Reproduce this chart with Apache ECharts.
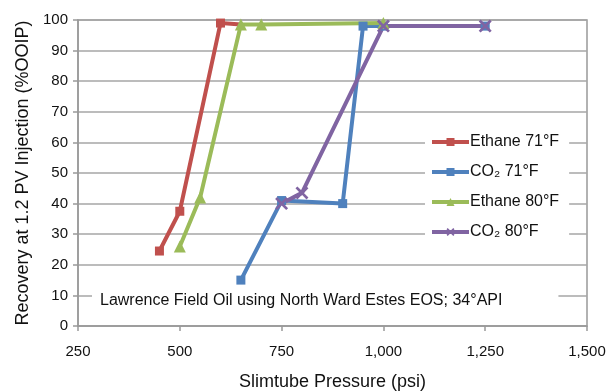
<!DOCTYPE html>
<html>
<head>
<meta charset="utf-8">
<script src="https://cdn.jsdelivr.net/npm/echarts@6/dist/echarts.min.js"></script>
<style>
  html, body { margin: 0; padding: 0; background: #fff; }
  #chart { width: 613px; height: 391px; }
</style>
</head>
<body>
<div id="chart"></div>
<script>
// pressure (psi) / recovery (%OOIP)
var ethane71P = [450, 500, 600, 650];
var ethane71R = [24.5, 37.5, 99, 98.5];
var co2_71P = [650, 750, 900, 950, 1000, 1250];
var co2_71R = [15, 41, 40, 98, 98, 98];
var ethane80P = [500, 550, 650, 700, 1000];
var ethane80R = [26, 42, 98.5, 98.5, 99];
var co2_80P = [750, 800, 1000, 1250];
var co2_80R = [40, 43.5, 98, 98];

var seriesNames = ['Ethane 71°F', 'CO\u2082 71°F', 'Ethane 80°F', 'CO\u2082 80°F'];
var xTicks = [250, 500, 750, 1000, 1250, 1500];
var yTicks = [0, 10, 20, 30, 40, 50, 60, 70, 80, 90, 100];

var colors = ['#C0504D', '#4F81BD', '#9BBB59', '#8064A2'];
var xMark = 'path://M0,1.5L1.5,0L5,3.5L8.5,0L10,1.5L6.5,5L10,8.5L8.5,10L5,6.5L1.5,10L0,8.5L3.5,5Z';

function pairs(xs, ys) {
    return xs.map(function(x, i) { return [x, ys[i]]; });
}

function fmt(v) {
    return String(v).replace(/\B(?=(\d{3})+(?!\d))/g, ',');
}

function line(name, data, color, symbol, size) {
    return {
        name: name,
        type: 'line',
        data: data,
        symbol: symbol,
        symbolSize: size,
        showSymbol: true,
        lineStyle: { color: color, width: 4 },
        itemStyle: { color: color, borderWidth: 0 },
        emphasis: { disabled: true },
        z: 2
    };
}

// red end point sits under the green triangle, so no marker there
var ethane71Data = pairs(ethane71P, ethane71R);
ethane71Data[ethane71Data.length - 1] = { value: ethane71Data[ethane71Data.length - 1], symbol: 'none' };

var font = 'Liberation Sans, Arial, sans-serif';
var myChart = echarts.init(document.getElementById('chart'));
var option = {
    animation: false,
    color: colors,
    textStyle: { fontFamily: font },
    grid: {
        left: 78,
        right: 26,
        top: 20,
        bottom: 65,
        containLabel: false,
        outerBoundsMode: 'none',
        show: true,
        borderColor: '#999',
        borderWidth: 1.5,
        backgroundColor: 'transparent'
    },
    title: {
        text: 'Lawrence Field Oil using North Ward Estes EOS; 34°API',
        left: 92,
        top: 291,
        backgroundColor: '#fff',
        padding: [2, 56, 2, 8],
        textStyle: {
            fontSize: 16,
            fontWeight: 'normal',
            color: '#111',
            fontFamily: font
        }
    },
    legend: {
        orient: 'vertical',
        left: 425,
        top: 130,
        backgroundColor: '#fff',
        padding: [4, 10, 4, 5],
        itemWidth: 37,
        itemHeight: 10,
        itemGap: 14,
        lineStyle: { width: 4 },
        textStyle: { fontSize: 16, color: '#111', padding: [0, 0, 0, -4] },
        data: seriesNames
    },
    xAxis: {
        type: 'value',
        min: 250,
        max: 1500,
        interval: 250,
        name: 'Slimtube Pressure (psi)',
        nameLocation: 'middle',
        nameGap: 47,
        nameTextStyle: { fontSize: 18, color: '#111' },
        axisLine: { show: true, lineStyle: { color: '#999', width: 1.5 } },
        axisTick: { show: true, length: 5, lineStyle: { color: '#999', width: 1.5 } },
        axisLabel: {
            fontSize: 15, color: '#111', margin: 18,
            formatter: function(v) { return xTicks.indexOf(v) >= 0 ? fmt(v) : ''; }
        },
        splitLine: { show: false }
    },
    yAxis: {
        type: 'value',
        min: 0,
        max: 100,
        interval: 10,
        name: 'Recovery at 1.2 PV Injection (%OOIP)',
        nameLocation: 'middle',
        nameGap: 46,
        nameTextStyle: { fontSize: 18, color: '#111' },
        axisLine: { show: true, lineStyle: { color: '#999', width: 1.5 } },
        axisTick: { show: true, length: 5, lineStyle: { color: '#999', width: 1.5 } },
        axisLabel: {
            fontSize: 15, color: '#111', margin: 10,
            formatter: function(v) { return yTicks.indexOf(v) >= 0 ? String(v) : ''; }
        },
        splitLine: { show: true, lineStyle: { color: '#a6a6a6', width: 1.5 } }
    },
    series: [
        line(seriesNames[0], ethane71Data, colors[0], 'rect', 9),
        line(seriesNames[1], pairs(co2_71P, co2_71R), colors[1], 'rect', 9),
        line(seriesNames[2], pairs(ethane80P, ethane80R), colors[2], 'triangle', 12),
        line(seriesNames[3], pairs(co2_80P, co2_80R), colors[3], xMark, 13)
    ]
};
myChart.setOption(option, true);
</script>
</body>
</html>
